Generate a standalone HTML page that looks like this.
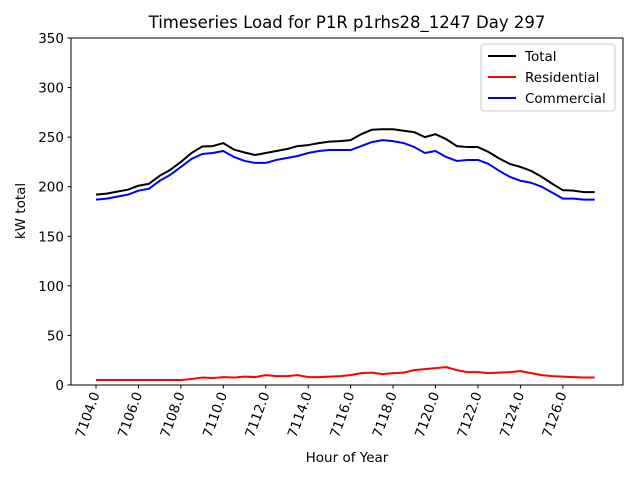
<!DOCTYPE html>
<html><head><meta charset="utf-8"><style>
body{margin:0;background:#fff}
svg{display:block;font-family:"DejaVu Sans","Liberation Sans",sans-serif}
</style></head><body>
<svg id="chart" width="640" height="480" viewBox="0 0 640 480">
<rect width="640" height="480" fill="#fff"/>
<text x="347" y="28" text-anchor="middle" font-size="16.5">Timeseries Load for P1R p1rhs28_1247  Day 297</text>
<g id="plot"></g>
<rect x="71" y="38" width="552" height="347" fill="none" stroke="#000" stroke-width="1"/>
<text x="347" y="462" text-anchor="middle" font-size="13.5">Hour of Year</text>
<text transform="translate(25,211) rotate(-90)" text-anchor="middle" font-size="13.5">kW total</text>
<g>
<rect x="481" y="44" width="134" height="67" rx="3" fill="#fff" stroke="#ccc"/>
<line x1="488" y1="56" x2="516" y2="56" stroke="#000" stroke-width="2"/>
<text x="525" y="61" font-size="13.5">Total</text>
<line x1="488" y1="77" x2="516" y2="77" stroke="#f00" stroke-width="2"/>
<text x="525" y="82" font-size="13.5">Residential</text>
<line x1="488" y1="98" x2="516" y2="98" stroke="#00f" stroke-width="2"/>
<text x="525" y="103" font-size="13.5">Commercial</text>
</g>
</svg>
<script>
const hourStart = 7104, hourStep = 0.5;
const commercial = [187,188,190,192,196,198,206,212,220,228,233,234,236,230,226,224,224,227,229,231,234,236,237,237,237,241,245,247,246,244,240,234,236,230,226,227,227,223,216,210,206,204,200,194,188,188,187,187];
const residential = [5,5,5,5,5,5,5,5,5,6,7.5,7,8,7.5,8.5,8,10,9,9,10,8,8,8.5,9,10,12,12.5,11,12,12.5,15,16,17,18,15,13,13,12,12.5,13,14,12,10,9,8.5,8,7.5,7.5];
const total = [192,193,195,197,201,203,211,217,225,234,240.5,241,244,237.5,234.5,232,234,236,238,241,242,244,245.5,246,247,253,257.5,258,258,256.5,255,250,253,248,241,240,240,235,228.5,223,220,216,210,203,196.5,196,194.5,194.5];
const yTicks = [0,50,100,150,200,250,300,350];
const xTicks = [7104,7106,7108,7110,7112,7114,7116,7118,7120,7122,7124,7126];
const xS = h => 96 + (h - 7104) * 21.22;
const yS = v => 385 - v * (347 / 350);
const NS = "http://www.w3.org/2000/svg";
const plot = document.getElementById('plot');
const svg = document.getElementById('chart');
function mk(t, a, p) { const e = document.createElementNS(NS, t); for (const k in a) e.setAttribute(k, a[k]); (p || svg).appendChild(e); return e; }
yTicks.forEach(v => {
  const y = yS(v);
  const l = mk('line', {x1: 67.5, x2: 71, y1: y, y2: y, stroke: '#000'});
  
  
  const t = mk('text', {x: 64, y: y + 5, 'text-anchor': 'end', 'font-size': 13.5});
  t.textContent = v;
  
  
});
xTicks.forEach(h => {
  const x = xS(h);
  const l = mk('line', {x1: x, x2: x, y1: 385, y2: 388.5, stroke: '#000'});
  
  
  const t = mk('text', {transform: `translate(${x + 4},394) rotate(-70)`, 'text-anchor': 'end', 'font-size': 13.5});
  t.textContent = h.toFixed(1);
  
  
});
function series(arr, color, name) {
  const d = arr.map((v, i) => (i ? 'L' : 'M') + xS(hourStart + i * hourStep).toFixed(2) + ',' + yS(v).toFixed(2)).join(' ');
  const p = mk('path', {d: d, fill: 'none', stroke: color, 'stroke-width': 2, 'stroke-linejoin': 'round'}, plot);
  
  
}
series(total, '#000', 'total-line');
series(residential, '#f00', 'residential-line');
series(commercial, '#00f', 'commercial-line');
</script>
</body></html>
